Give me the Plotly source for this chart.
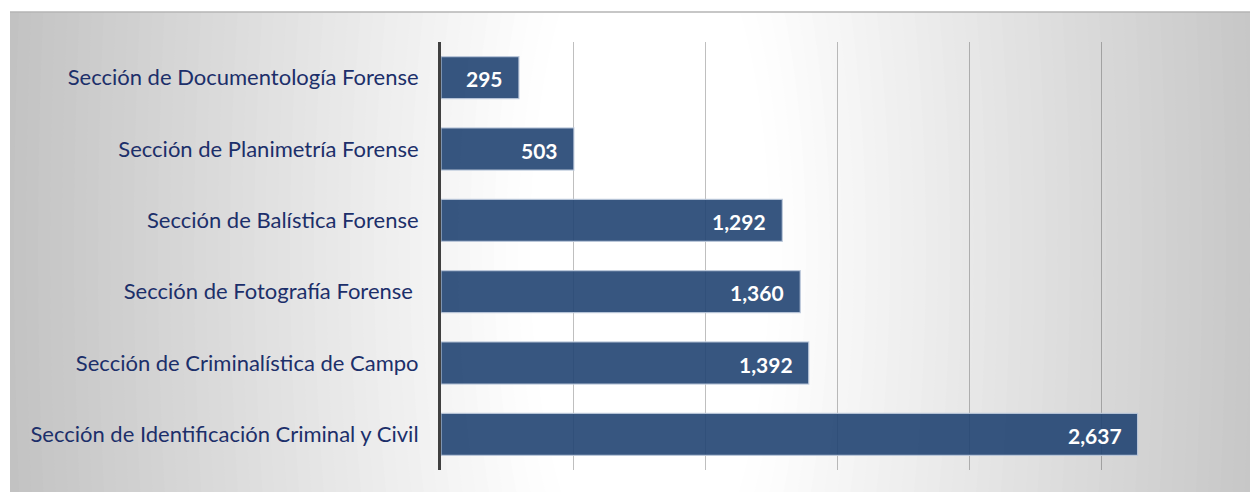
import plotly.graph_objects as go

categories = [
    "Sección de Documentología Forense",
    "Sección de Planimetría Forense",
    "Sección de Balística Forense",
    "Sección de Fotografía Forense\u00a0",
    "Sección de Criminalística de Campo",
    "Sección de Identificación Criminal y Civil",
]
values = [295, 503, 1292, 1360, 1392, 2637]
x_ticks = [0, 500, 1000, 1500, 2000, 2500, 3000]

W, H = 1250, 492
L, R, T, B = 441, 16, 42, 22
pw, ph = W - L - R, H - T - B


def px2paper_x(px):
    return (px - L) / pw


def px2paper_y(py):
    return (H - B - py) / ph


shapes = []
# radial background gradient (concentric ellipses)
cx, cy = 650, 250
r_white, r_gray = 120, 680
gray_end = 190
step = 12


def shade(r):
    t = (r - r_white) / (r_gray - r_white)
    t = max(0.0, min(1.0, t))
    v = round(255 - t * (255 - gray_end))
    return f"rgb({v},{v},{v})"


radii = list(range(900, r_white - step, -step))
for r in radii:
    ry = r * 3
    shapes.append(dict(
        type="circle", xref="paper", yref="paper", layer="below",
        x0=px2paper_x(cx - r), x1=px2paper_x(cx + r),
        y0=px2paper_y(cy + ry), y1=px2paper_y(cy - ry),
        fillcolor=shade(r - step / 2), line=dict(width=0),
    ))
# white masks outside the frame
shapes.append(dict(type="rect", xref="paper", yref="paper", layer="below",
                   x0=px2paper_x(-50), x1=px2paper_x(W + 50),
                   y0=px2paper_y(12), y1=px2paper_y(-50),
                   fillcolor="white", line=dict(width=0)))
shapes.append(dict(type="rect", xref="paper", yref="paper", layer="below",
                   x0=px2paper_x(-50), x1=px2paper_x(10),
                   y0=px2paper_y(H + 50), y1=px2paper_y(-50),
                   fillcolor="white", line=dict(width=0)))
shapes.append(dict(type="line", xref="paper", yref="paper", layer="below",
                   x0=px2paper_x(10), x1=px2paper_x(W + 5),
                   y0=px2paper_y(12), y1=px2paper_y(12),
                   line=dict(color="#b4b4b4", width=1.5)))

fig = go.Figure()
fig.add_trace(go.Bar(
    x=values, y=categories, orientation="h",
    marker=dict(color="rgba(33,68,114,0.9)",
                line=dict(color="rgba(190,202,220,0.9)", width=1.2)),
    hoverinfo="skip",
))

annotations = []
for c, v in zip(categories, values):
    annotations.append(dict(
        x=v, y=c, xref="x", yref="y", text=f"{v:,}", showarrow=False,
        xanchor="right", yanchor="middle", xshift=-14, yshift=-1,
        font=dict(family="Lato", size=21, color="white", weight="bold"),
    ))

fig.update_layout(
    width=W, height=H,
    margin=dict(l=L, r=R, t=T, b=B, pad=0),
    paper_bgcolor="white",
    plot_bgcolor="rgba(0,0,0,0)",
    bargap=0.41,
    showlegend=False,
    shapes=shapes,
    annotations=annotations,
    xaxis=dict(
        range=[0, 3002], tickvals=x_ticks, showticklabels=False,
        showgrid=True, gridcolor="rgba(0,0,0,0.25)", gridwidth=1,
        zeroline=False, showline=False, fixedrange=True,
    ),
    yaxis=dict(
        autorange="reversed", showline=True, linecolor="#404040", linewidth=3,
        showgrid=False, ticks="", ticklabelstandoff=15,
        tickfont=dict(family="Lato", size=22, color="#1c2f6a"),
        fixedrange=True,
    ),
)

fig.write_html("out.html", config={"displayModeBar": False},
               post_script="document.body.style.margin='0';document.body.style.overflow='hidden';")
